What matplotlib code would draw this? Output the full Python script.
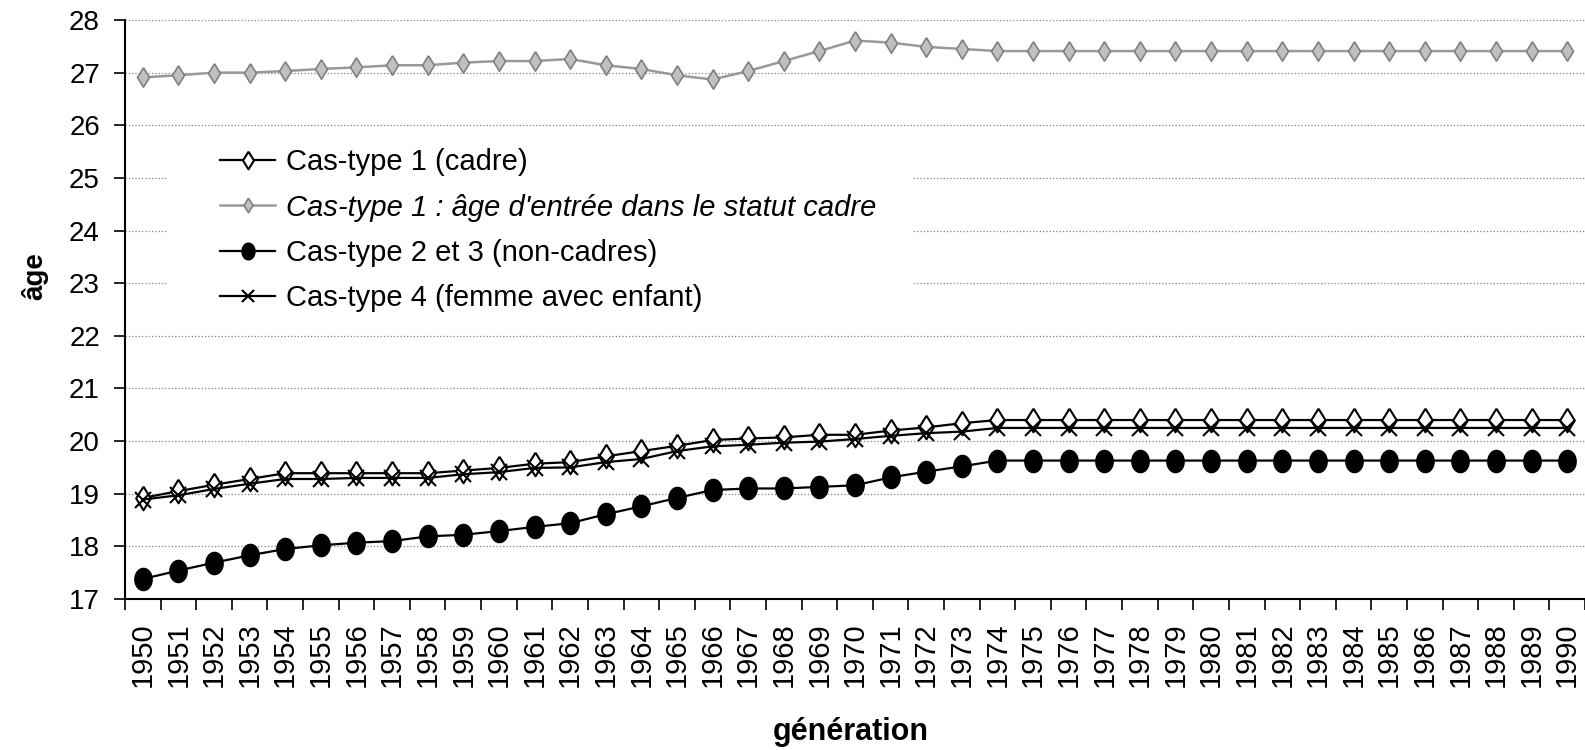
import numpy as np
import matplotlib
matplotlib.use('Agg')
import matplotlib.pyplot as plt
from matplotlib.patches import Rectangle
from matplotlib.ticker import FixedLocator, NullFormatter

# generations 1950 .. 1990
annees = [str(a) for a in range(1950, 1991)]

cadre = [18.92, 19.05, 19.17, 19.28, 19.39, 19.39, 19.39, 19.39, 19.39, 19.44,
         19.49, 19.57, 19.60, 19.71, 19.81, 19.91, 20.02, 20.05, 20.07, 20.12,
         20.12, 20.20, 20.26, 20.34, 20.40, 20.40, 20.40, 20.40, 20.40, 20.40,
         20.40, 20.40, 20.40, 20.40, 20.40, 20.40, 20.40, 20.40, 20.40, 20.40,
         20.40]

entree_cadre = [26.91, 26.95, 27.00, 27.00, 27.03, 27.07, 27.10, 27.14, 27.14, 27.19,
                27.22, 27.22, 27.26, 27.14, 27.07, 26.95, 26.87, 27.03, 27.22, 27.41,
                27.61, 27.57, 27.49, 27.45, 27.41, 27.41, 27.41, 27.41, 27.41, 27.41,
                27.41, 27.41, 27.41, 27.41, 27.41, 27.41, 27.41, 27.41, 27.41, 27.41,
                27.41]

non_cadres = [17.38, 17.54, 17.69, 17.83, 17.95, 18.02, 18.07, 18.10, 18.19, 18.22,
              18.29, 18.37, 18.44, 18.61, 18.76, 18.92, 19.07, 19.10, 19.10, 19.13,
              19.16, 19.31, 19.42, 19.52, 19.63, 19.63, 19.63, 19.63, 19.63, 19.63,
              19.63, 19.63, 19.63, 19.63, 19.63, 19.63, 19.63, 19.63, 19.63, 19.63,
              19.63]

femme = [18.89, 18.97, 19.09, 19.19, 19.28, 19.28, 19.30, 19.30, 19.30, 19.37,
         19.41, 19.49, 19.50, 19.60, 19.66, 19.81, 19.90, 19.93, 19.97, 19.99,
         20.04, 20.10, 20.15, 20.18, 20.25, 20.25, 20.25, 20.25, 20.25, 20.25,
         20.25, 20.25, 20.25, 20.25, 20.25, 20.25, 20.25, 20.25, 20.25, 20.25,
         20.25]

labels = ['Cas-type 1 (cadre)',
          "Cas-type 1 : âge d'entrée dans le statut cadre",
          'Cas-type 2 et 3 (non-cadres)',
          'Cas-type 4 (femme avec enfant)']

plt.rcParams['font.family'] = ['Liberation Sans', 'DejaVu Sans']

# Excel style markers: a bit taller than wide
t = np.linspace(0, 2 * np.pi, 40)
ellipse = list(zip(0.78 * np.cos(t), np.sin(t)))
losange = [(0, 1), (0.62, 0), (0, -1), (-0.62, 0), (0, 1)]

W, H = 1585, 750
fig = plt.figure(figsize=(W / 100, H / 100), dpi=100)
ax = fig.add_axes([125 / W, 1 - 599 / H, 1 - 125 / W, (599 - 20) / H])

x = np.arange(len(annees))
ax.plot(x, cadre, color='black', lw=1.6, marker=losange, ms=17,
        mfc='white', mec='black', mew=1.5, label=labels[0], zorder=4)
ax.plot(x, entree_cadre, color='#999999', lw=1.8, marker=losange, ms=14,
        mfc='#c0c0c0', mec='#808080', mew=1.2, label=labels[1], zorder=3)
ax.plot(x, non_cadres, color='black', lw=1.6, marker=ellipse, ms=16,
        mfc='black', mec='black', label=labels[2], zorder=4)
ax.plot(x, femme, color='black', lw=1.6, marker='x', ms=12,
        mec='black', mew=1.5, label=labels[3], zorder=5)

ax.set_ylim(17, 28)
ax.set_yticks(range(17, 29))
ax.set_xlim(-0.5, len(annees) - 0.5)
ax.xaxis.set_major_locator(FixedLocator(np.arange(-0.5, len(annees), 1.0)))
ax.xaxis.set_major_formatter(NullFormatter())
ax.xaxis.set_minor_locator(FixedLocator(x))
ax.set_xticklabels(annees, minor=True, rotation=90)
ax.tick_params(axis='x', which='major', direction='out', length=8, width=1.2)
ax.tick_params(axis='x', which='minor', length=0, pad=17, labelsize=21)
ax.tick_params(axis='y', direction='out', length=8, width=1.2, pad=10, labelsize=20)

ax.yaxis.grid(True, linestyle=':', color='#808080', lw=0.9)
ax.set_axisbelow(True)
for s in ['top', 'right']:
    ax.spines[s].set_visible(False)
for s in ['left', 'bottom']:
    ax.spines[s].set_linewidth(1.5)

# white area behind the legend hides the grid, as in the original
ax.add_patch(Rectangle((167 / W, 1 - 322 / H), (912 - 167) / W, (322 - 140) / H,
                       transform=fig.transFigure, facecolor='white',
                       edgecolor='none', zorder=1))

fig.text(35 / W, 1 - 276 / H, 'âge', rotation=90, fontsize=20, fontweight='bold',
         ha='center', va='center')
fig.text(851 / W, 1 - 740 / H, 'génération', fontsize=22, fontweight='bold',
         ha='center', va='baseline')

leg = ax.legend(loc='upper left', bbox_to_anchor=(220 / W, 1 - 148 / H),
                bbox_transform=fig.transFigure, borderaxespad=0, borderpad=0,
                fontsize=21, frameon=False, handlelength=1.9,
                handletextpad=0.35, labelspacing=0.6, markerscale=0.75)
for txt in leg.get_texts():
    if 'statut' in txt.get_text():
        txt.set_fontstyle('italic')

fig.savefig('out.png', dpi=100)
